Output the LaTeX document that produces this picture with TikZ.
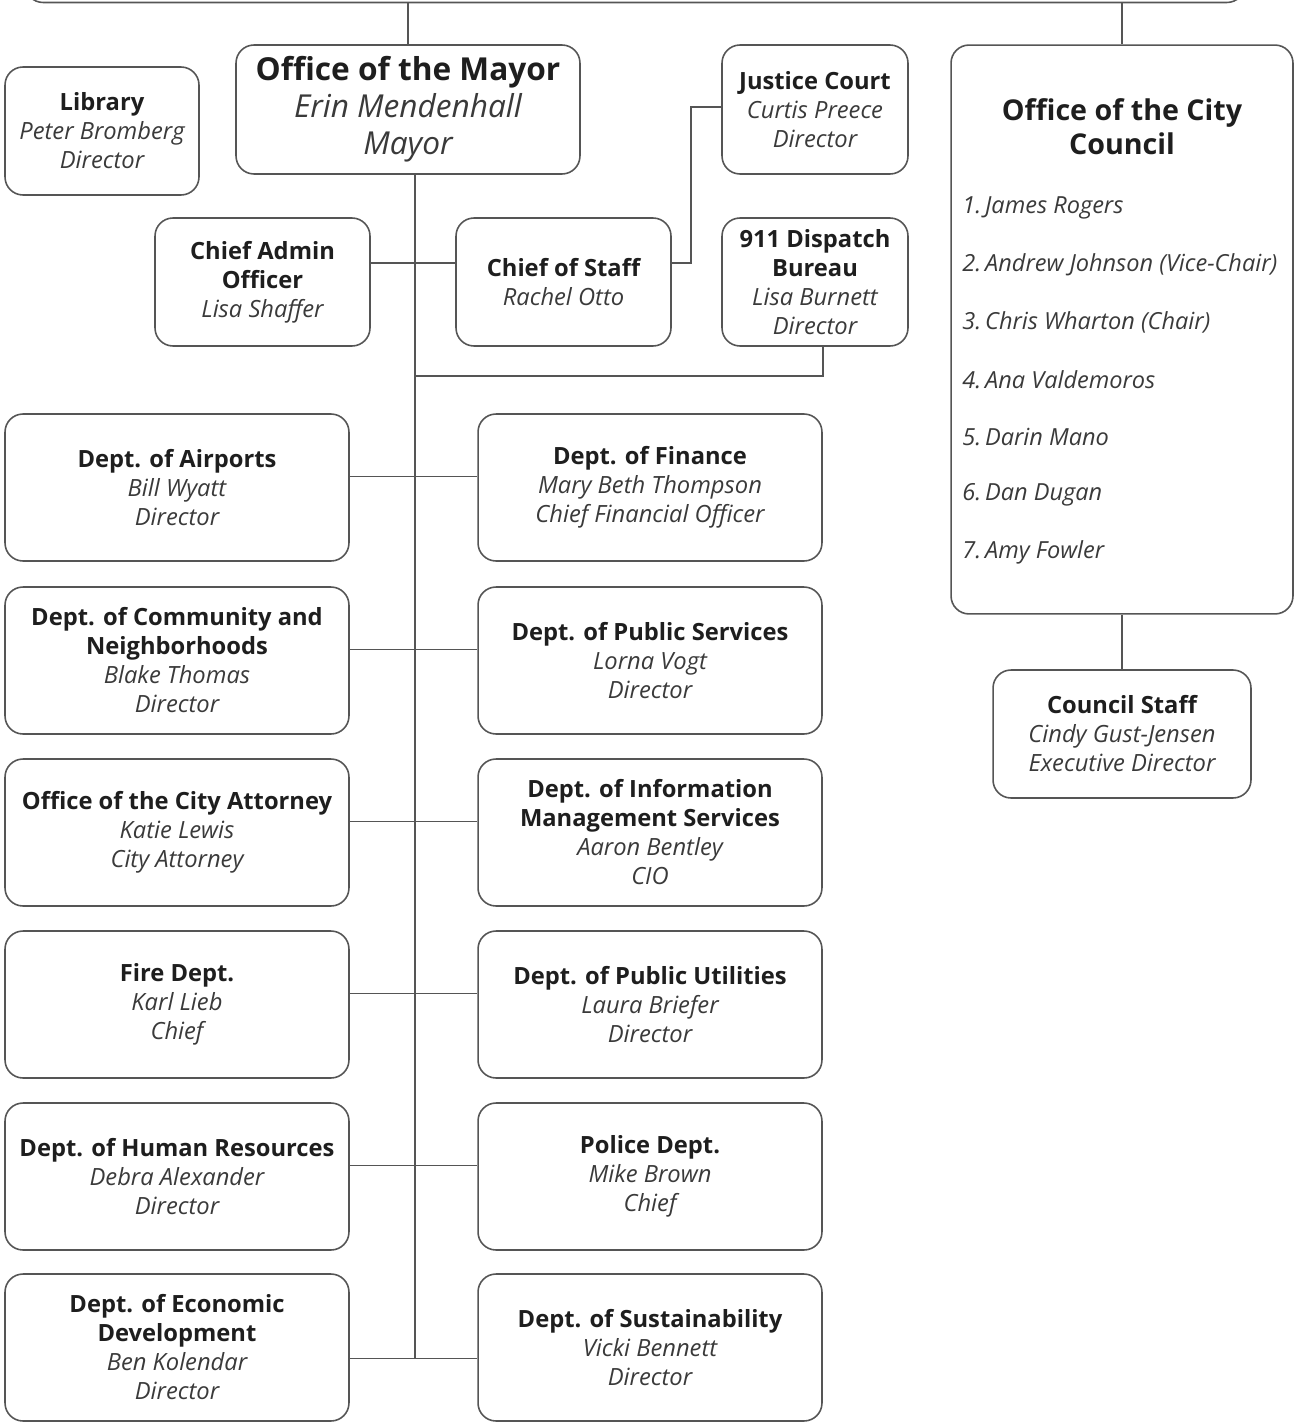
\documentclass[tikz,border=0pt]{standalone}
\usepackage{fontspec}
\setmainfont{Open Sans}
\definecolor{linegray}{HTML}{555555}
\definecolor{txt}{HTML}{1E1E1E}
\definecolor{txtit}{HTML}{3A3A3A}
\newcommand{\hd}[1]{{\bfseries\color{txt}#1}}
\newcommand{\nm}[1]{{\itshape\color{txtit}#1}}

\begin{document}
\begin{tikzpicture}[x=0.02cm, y=-0.02cm,
    box/.style={draw=linegray, line width=0.9pt, rounded corners=0.36cm, align=center,
      inner sep=0pt, font=\fontsize{13.5}{16.5}\selectfont},
    dept/.style={box, minimum width=6.88cm, minimum height=2.94cm},
    small/.style={box, minimum width=3.72cm, minimum height=2.58cm},
    link/.style={draw=linegray, line width=0.9pt}]
    \clip (0,0) rectangle (1294,1422);

    % top level and the mayor
    \node[box, minimum width=24.4cm, minimum height=0.9cm] (top) at (635,-20) {};
    \node[box, minimum width=6.88cm, minimum height=2.58cm,
      font=\fontsize{18}{21}\selectfont] (mayor) at (408,109.5)
      {\hd{Office of the Mayor}\\\nm{Erin Mendenhall}\\\nm{Mayor}};
    \node[box, minimum width=3.88cm, minimum height=2.56cm] (library) at (102,131)
      {\hd{Library}\\\nm{Peter Bromberg}\\\nm{Director}};
    \node[small] (justice) at (815,109.5)
      {\hd{Justice Court}\\\nm{Curtis Preece}\\\nm{Director}};
    \node[box, minimum width=4.3cm, minimum height=2.56cm] (admin) at (262.5,282)
      {\hd{Chief Admin}\\\hd{Officer}\\\nm{Lisa Shaffer}};
    \node[box, minimum width=4.3cm, minimum height=2.56cm] (staff) at (563.5,282)
      {\hd{Chief of Staff}\\\nm{Rachel Otto}};
    \node[small, minimum height=2.56cm] (dispatch) at (815,282)
      {\hd{911 Dispatch}\\\hd{Bureau}\\\nm{Lisa Burnett}\\\nm{Director}};

    % departments
    \node[dept] (airports) at (177,487.5) {\hd{Dept. of Airports}\\\nm{Bill Wyatt}\\\nm{Director}};
    \node[dept] (finance) at (650,487.5) {\hd{Dept. of Finance}\\\nm{Mary Beth Thompson}\\\nm{Chief Financial Officer}};
    \node[dept] (community) at (177,660.5) {\hd{Dept. of Community and}\\\hd{Neighborhoods}\\\nm{Blake Thomas}\\\nm{Director}};
    \node[dept] (publicserv) at (650,660.5) {\hd{Dept. of Public Services}\\\nm{Lorna Vogt}\\\nm{Director}};
    \node[dept] (attorney) at (177,832.5) {\hd{Office of the City Attorney}\\\nm{Katie Lewis}\\\nm{City Attorney}};
    \node[dept] (infoserv) at (650,832.5) {\hd{Dept. of Information}\\\hd{Management Services}\\\nm{Aaron Bentley}\\\nm{CIO}};
    \node[dept] (fire) at (177,1004.5) {\hd{Fire Dept.}\\\nm{Karl Lieb}\\\nm{Chief}};
    \node[dept] (utilities) at (650,1004.5) {\hd{Dept. of Public Utilities}\\\nm{Laura Briefer}\\\nm{Director}};
    \node[dept] (hr) at (177,1176.5) {\hd{Dept. of Human Resources}\\\nm{Debra Alexander}\\\nm{Director}};
    \node[dept] (police) at (650,1176.5) {\hd{Police Dept.}\\\nm{Mike Brown}\\\nm{Chief}};
    \node[dept] (econdev) at (177,1347.5) {\hd{Dept. of Economic}\\\hd{Development}\\\nm{Ben Kolendar}\\\nm{Director}};
    \node[dept] (sustain) at (650,1347.5) {\hd{Dept. of Sustainability}\\\nm{Vicki Bennett}\\\nm{Director}};

    % city council
    \node[box, minimum width=6.84cm, minimum height=11.38cm] (council) at (1122,329.5) {};
    \node[align=center, font=\fontsize{16.3}{19.3}\selectfont] (counciltitle) at (1122,127)
      {\hd{Office of the City}\\\hd{Council}};
    \foreach \name [count=\i] in {James Rogers, Andrew Johnson (Vice-Chair),
        Chris Wharton (Chair), Ana Valdemoros, Darin Mano, Dan Dugan, Amy Fowler}
      \node[anchor=west, inner sep=0pt, font=\fontsize{13.4}{15}\selectfont]
        (member\i) at (962,{150+57.5*\i}) {\nm{\i.\,\name}};
    \node[box, minimum width=5.16cm, minimum height=2.56cm] (cstaff) at (1122,734)
      {\hd{Council Staff}\\\nm{Cindy Gust-Jensen}\\\nm{Executive Director}};

    % connectors
    \coordinate (trunktop) at (415,174);
    \coordinate (trunkend) at (415,1358);
    \coordinate (dispjoin) at (415,376);
    \draw[link] (top.south -| mayor.north) -- (mayor.north);
    \draw[link] (top.south -| council.north) -- (council.north);
    \draw[link] (trunktop) -- (trunkend);
    \draw[link] ([yshift=0.38cm]admin.east) -- ([yshift=0.38cm]staff.west);
    \draw[link] ([yshift=0.38cm]staff.east) -- ++(19,0) |- ([yshift=0.05cm]justice.west);
    \draw[link] ([xshift=0.16cm]dispatch.south) |- (dispjoin);
    \foreach \l/\r in {airports/finance, community/publicserv, attorney/infoserv,
        fire/utilities, hr/police}
      \draw[link] ([yshift=0.22cm]\l.east) -- ([yshift=0.22cm]\r.west);
    \draw[link] ([yshift=-0.22cm]econdev.east) -- ([yshift=-0.22cm]sustain.west);
    \draw[link] (council.south) -- (cstaff.north);
\end{tikzpicture}
\end{document}
